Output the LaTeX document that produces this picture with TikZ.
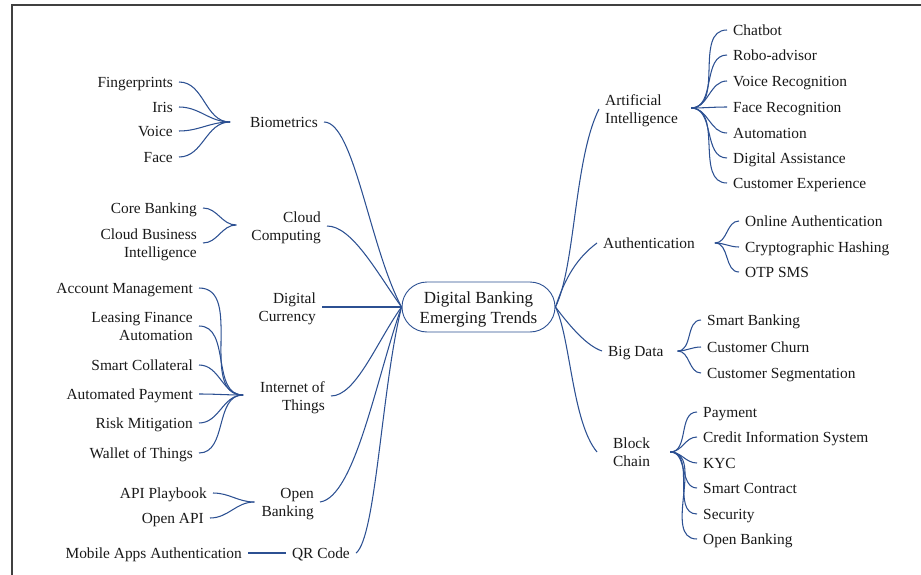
\documentclass[tikz,border=0pt]{standalone}
\usepackage{fontspec}
\setmainfont{Liberation Serif}
\definecolor{lnk}{RGB}{44,80,146}
\definecolor{txt}{RGB}{25,25,25}
\definecolor{frm}{RGB}{64,64,64}
\newcommand\stackR[1]{\raisebox{-2pt}[\height][\depth]{\begin{tabular}{@{}r@{}}#1\end{tabular}}}
\newcommand\stackL[1]{\raisebox{-2pt}[\height][\depth]{\begin{tabular}{@{}l@{}}#1\end{tabular}}}
\newcommand\stackC[1]{\raisebox{-2.5pt}[\height][\depth]{\begin{tabular}{@{}c@{}}#1\end{tabular}}}
\tikzset{
  lbl/.style={font=\fontsize{15.4}{18}\selectfont, inner xsep=6pt, inner ysep=1pt, text=txt},
  one/.style={lbl, text height=12.5pt, text depth=1.5pt},
  two/.style={lbl},
  con/.style={draw=lnk, line width=1.05pt},
  fan/.style={con, out=0, in=180},
  hub/.style={draw=lnk, line width=0.9pt, rounded corners=25pt, minimum width=153pt,
    minimum height=50pt, text=txt, font=\fontsize{17}{20}\selectfont},
  frame/.style={draw=frm, line width=1.5pt}
}
\begin{document}
\begin{tikzpicture}[x=1pt,y=-1pt]
\fill[white] (0,0) rectangle (921,575);
\useasboundingbox (0,0) rectangle (921,575);
\draw[frame] (12,575) -- (12,5) -- (921,5);

% center
\node[hub] (c) at (478.5,307) {\stackC{Digital Banking\\Emerging Trends}};

% left branches
\node[one, anchor=east] (bio) at (324,122) {Biometrics};
\node[two, anchor=east] (cloud) at (327,226) {\stackR{Cloud\\Computing}};
\node[two, anchor=east] (dc) at (322,307) {\stackR{Digital\\Currency}};
\node[two, anchor=east] (iot) at (331,396) {\stackR{Internet of\\Things}};
\node[two, anchor=east] (ob) at (320,502) {\stackR{Open\\Banking}};
\node[one, anchor=east] (qr) at (356,553) {QR Code};

% left leaves
\node[one, anchor=east] (fp) at (179,82) {Fingerprints};
\node[one, anchor=east] (iris) at (179,107) {Iris};
\node[one, anchor=east] (voice) at (179,131) {Voice};
\node[one, anchor=east] (face) at (179,157) {Face};
\node[one, anchor=east] (core) at (203,208) {Core Banking};
\node[two, anchor=east] (cbi) at (203,243) {\stackR{Cloud Business\\Intelligence}};
\node[one, anchor=east] (acct) at (199,288) {Account Management};
\node[two, anchor=east] (lfa) at (199,326) {\stackR{Leasing Finance\\Automation}};
\node[one, anchor=east] (scol) at (199,365) {Smart Collateral};
\node[one, anchor=east] (apay) at (199,394) {Automated Payment};
\node[one, anchor=east] (risk) at (199,423) {Risk Mitigation};
\node[one, anchor=east] (wot) at (199,453) {Wallet of Things};
\node[one, anchor=east] (apb) at (213,493) {API Playbook};
\node[one, anchor=east] (oapi) at (210,518) {Open API};
\node[one, anchor=east] (mob) at (248,553) {Mobile Apps Authentication};

% right branches
\node[two, anchor=west] (ai) at (599,109) {\stackL{Artificial\\Intelligence}};
\node[one, anchor=west] (auth) at (597,243) {Authentication};
\node[one, anchor=west] (bd) at (602,351) {Big Data};
\node[two, anchor=west] (bc) at (607,452) {\stackL{Block\\Chain}};

% right leaves
\node[one, anchor=west] (chat) at (727,30) {Chatbot};
\node[one, anchor=west] (robo) at (727,55) {Robo-advisor};
\node[one, anchor=west] (vrec) at (727,81) {Voice Recognition};
\node[one, anchor=west] (frec) at (727,107) {Face Recognition};
\node[one, anchor=west] (auto) at (727,133) {Automation};
\node[one, anchor=west] (dass) at (727,158) {Digital Assistance};
\node[one, anchor=west] (cexp) at (727,183) {Customer Experience};
\node[one, anchor=west] (oauth) at (739,221) {Online Authentication};
\node[one, anchor=west] (crypt) at (739,247) {Cryptographic Hashing};
\node[one, anchor=west] (otp) at (739,272) {OTP SMS};
\node[one, anchor=west] (sbank) at (701,320) {Smart Banking};
\node[one, anchor=west] (churn) at (701,347) {Customer Churn};
\node[one, anchor=west] (cseg) at (701,373) {Customer Segmentation};
\node[one, anchor=west] (pay) at (697,412) {Payment};
\node[one, anchor=west] (cis) at (697,437) {Credit Information System};
\node[one, anchor=west] (kyc) at (697,463) {KYC};
\node[one, anchor=west] (scon) at (697,488) {Smart Contract};
\node[one, anchor=west] (sec) at (697,514) {Security};
\node[one, anchor=west] (obk) at (697,539) {Open Banking};

% hubs
\coordinate (bioH) at ([xshift=-14pt]bio.west);
\coordinate (cloudH) at ([xshift=-9pt,yshift=1pt]cloud.west);
\coordinate (iotH) at ([xshift=-11pt,yshift=1pt]iot.west);
\coordinate (obH) at ([xshift=-1pt]ob.west);
\coordinate (aiH) at ([xshift=7pt,yshift=1pt]ai.east);
\coordinate (authH) at ([xshift=14pt]auth.east);
\coordinate (bdH) at ([xshift=8pt]bd.east);
\coordinate (bcH) at ([xshift=14pt]bc.east);

% main connectors
\draw[con] (bio.east) .. controls +(30,0) and +(-32,-60) .. (c.west);
\draw[con] (cloud.east) .. controls +(25,0) and +(-25,-35) .. (c.west);
\draw[con] (dc.east) -- (c.west);
\draw[con] (iot.east) .. controls +(25,0) and +(-25,35) .. (c.west);
\draw[con] (ob.east) .. controls +(35,-5) and +(-25,70) .. (c.west);
\draw[con] (qr.east) .. controls +(20,-15) and +(-20,80) .. (c.west);
\draw[con] (c.east) .. controls +(20,-40) and +(-25,50) .. (ai.west);
\draw[con] (c.east) .. controls +(10,-30) and +(-20,15) .. (auth.west);
\draw[con] (c.east) .. controls +(15,20) and +(-15,-5) .. (bd.west);
\draw[con] (c.east) .. controls +(15,30) and +(-25,-30) .. ([xshift=-10pt]bc.west);

% left fans
\foreach \n in {fp,iris,voice,face} \draw[fan] (\n.east) to (bioH);
\foreach \n in {core,cbi} \draw[fan] (\n.east) to (cloudH);
\foreach \n in {acct,lfa,scol,apay,risk,wot} \draw[fan] (\n.east) to (iotH);
\foreach \n in {apb,oapi} \draw[fan] (\n.east) to (obH);
\draw[con] (mob.east) -- (qr.west);

% right fans
\foreach \n in {chat,robo,vrec,frec,auto,dass,cexp} \draw[fan] (aiH) to (\n.west);
\foreach \n in {oauth,crypt,otp} \draw[fan] (authH) to (\n.west);
\foreach \n in {sbank,churn,cseg} \draw[fan] (bdH) to (\n.west);
\foreach \n in {pay,cis,kyc,scon,sec,obk} \draw[fan] (bcH) to (\n.west);
\end{tikzpicture}
\end{document}
